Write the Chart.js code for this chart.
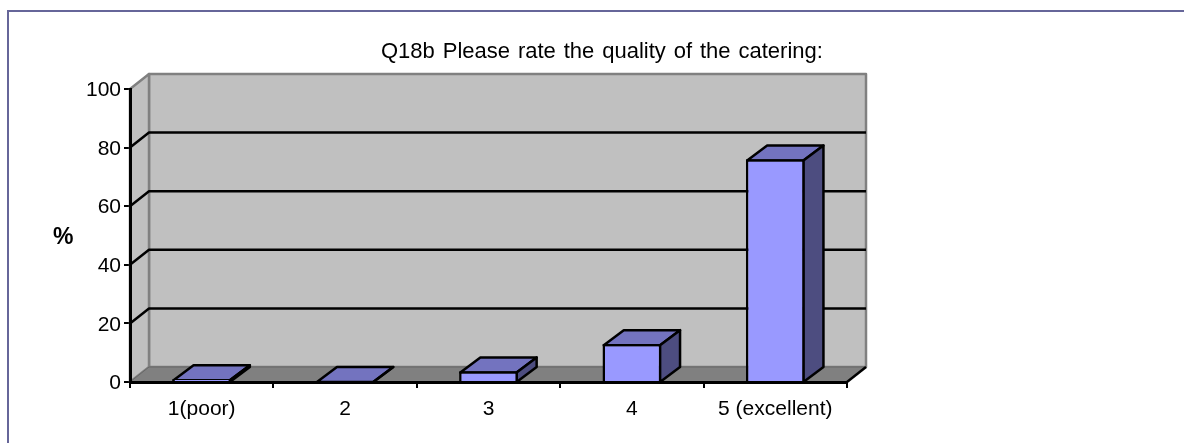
<!DOCTYPE html>
<html>
<head>
<meta charset="utf-8">
<style>
    html, body { margin: 0; padding: 0; background: #fff; overflow: hidden; }
    #wrap { position: relative; width: 1184px; height: 443px; }
    #frame { position: absolute; left: 7px; top: 10px; right: 0; bottom: 0; border-top: 2px solid #666699; border-left: 2px solid #666699; }
    canvas { position: absolute; left: 0; top: 0; }
</style>
<script src="https://cdn.jsdelivr.net/npm/chart.js@4"></script>
</head>
<body>
<div id="wrap">
    <div id="frame"></div>
    <canvas id="myChart" width="1184" height="443"></canvas>
</div>
<script>
const categories = ["1(poor)", "2", "3", "4", "5 (excellent)"];
const percentages = [1, 0, 3.7, 13, 76];
const yTicks = [0, 20, 40, 60, 80, 100];
const titleText = "Q18b Please rate the quality of the catering:";
const yLabel = "%";

// how far the back wall sits behind the front plane, 3d look
const wallDx = 19;
const wallDy = -15;
const barDx = 20;
const barDy = -15;
const barLine = 2.5;
const fontName = "'Liberation Sans', Arial, sans-serif";

function poly(c, pts, fill, stroke, lw) {
    c.beginPath();
    pts.forEach((p, i) => (i ? c.lineTo(p[0], p[1]) : c.moveTo(p[0], p[1])));
    c.closePath();
    if (fill) {
        c.fillStyle = fill;
        c.fill();
    }
    if (stroke) {
        c.strokeStyle = stroke;
        c.lineWidth = lw;
        c.lineJoin = "round";
        c.stroke();
    }
}

const walls3d = {
    id: "walls3d",
    beforeDatasetsDraw(chart) {
        const c = chart.ctx;
        const x = chart.scales.x;
        const y = chart.scales.y;
        const l = x.left, r = x.right, t = y.top, b = y.bottom;
        c.save();
        // back wall
        poly(c, [[l + wallDx, t + wallDy], [r + wallDx, t + wallDy], [r + wallDx, b + wallDy], [l + wallDx, b + wallDy]], "#c0c0c0", "#808080", 2.5);
        // left wall
        poly(c, [[l, t], [l + wallDx, t + wallDy], [l + wallDx, b + wallDy], [l, b]], "#c0c0c0", "#808080", 2.5);
        // floor
        poly(c, [[l, b], [l + wallDx, b + wallDy], [r + wallDx, b + wallDy], [r, b]], "#808080", "#666666", 1);
        // gridlines go along left wall then back wall
        c.strokeStyle = "#000";
        c.lineWidth = 2.5;
        yTicks.slice(1, -1).forEach((v) => {
            const py = y.getPixelForValue(v);
            c.beginPath();
            c.moveTo(l, py);
            c.lineTo(l + wallDx, py + wallDy);
            c.lineTo(r + wallDx, py + wallDy);
            c.stroke();
        });
        // floor corner line at right side
        c.beginPath();
        c.moveTo(r, b);
        c.lineTo(r + wallDx, b + wallDy);
        c.stroke();
        // bar tops and sides, behind the front faces
        // chart.js draws the bar border inside the bar so line them up with it
        chart.getDatasetMeta(0).data.forEach((bar) => {
            const x0 = bar.x - bar.width / 2 + barLine / 2;
            const x1 = bar.x + bar.width / 2 - barLine / 2;
            const top = Math.min(bar.y + barLine / 2, b);
            poly(c, [[x0, top], [x0 + barDx, top + barDy], [x1 + barDx, top + barDy], [x1, top]], "#7373bf", "#000", barLine);
            poly(c, [[x1, top], [x1 + barDx, top + barDy], [x1 + barDx, b + barDy], [x1, b]], "#4d4d80", "#000", barLine);
        });
        c.restore();
    },
    afterDraw(chart) {
        const c = chart.ctx;
        c.save();
        c.fillStyle = "#000";
        c.textBaseline = "alphabetic";
        c.font = "22px " + fontName;
        c.wordSpacing = "1.8px";
        c.fillText(titleText, 381, 58);
        c.wordSpacing = "0px";
        c.font = "bold 23px " + fontName;
        c.fillText(yLabel, 53, 244);
        c.restore();
    },
};

new Chart(document.getElementById("myChart"), {
    type: "bar",
    data: {
        labels: categories,
        datasets: [
            {
                data: percentages,
                backgroundColor: "#9999ff",
                borderColor: "#000",
                borderWidth: barLine,
                barPercentage: 0.41,
                categoryPercentage: 1,
            },
        ],
    },
    plugins: [walls3d],
    options: {
        responsive: false,
        animation: false,
        layout: { padding: { top: 89, right: 337, bottom: 0, left: 0 } },
        plugins: { legend: { display: false }, title: { display: false }, tooltip: { enabled: false } },
        scales: {
            x: {
                offset: true,
                grid: { offset: true, drawOnChartArea: false, color: "#000", lineWidth: 2, tickLength: 6 },
                border: { color: "#000", width: 3, z: 1 },
                ticks: { color: "#000", font: { family: fontName, size: 21 }, maxRotation: 0, padding: 9, autoSkip: false },
                afterFit(s) { s.height = 61; },
            },
            y: {
                min: 0,
                max: 100,
                afterBuildTicks(s) { s.ticks = yTicks.map((v) => ({ value: v })); },
                grid: { drawOnChartArea: false, color: "#000", lineWidth: 2, tickLength: 6 },
                border: { color: "#000", width: 3, z: 1 },
                ticks: { color: "#000", font: { family: fontName, size: 21 }, padding: 3, labelOffset: 1.5, autoSkip: false },
                afterFit(s) { s.width = 130; },
            },
        },
    },
});
</script>
</body>
</html>
